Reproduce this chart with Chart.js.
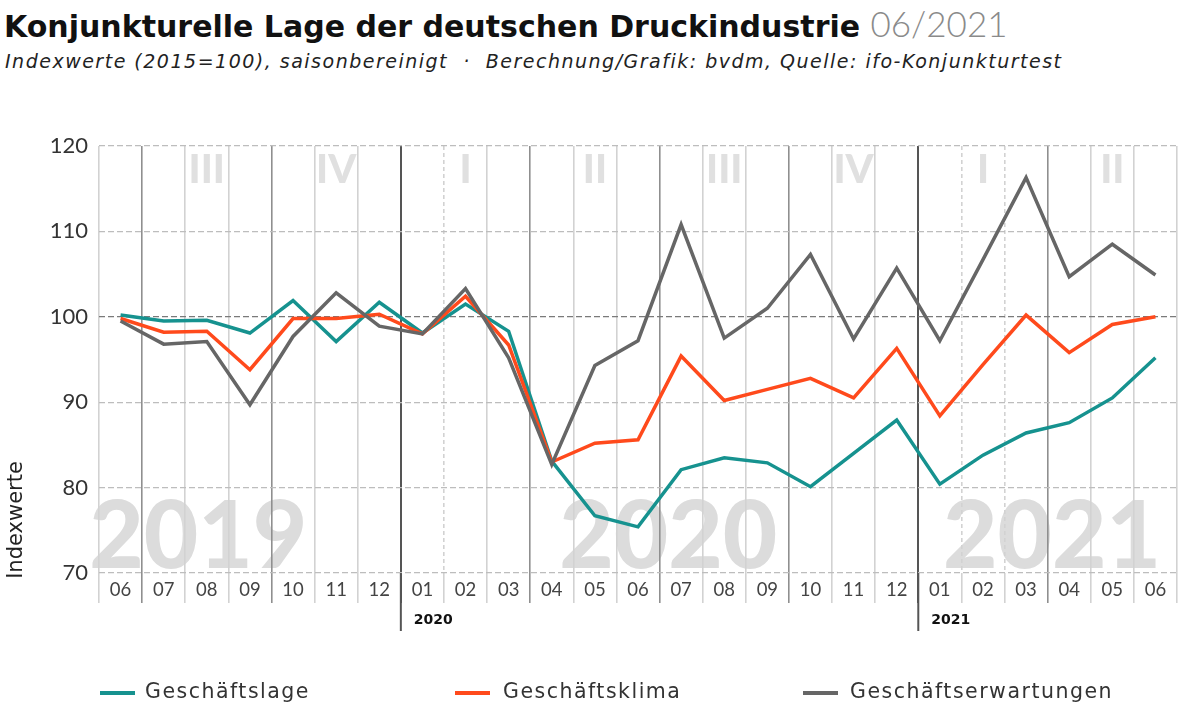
<!DOCTYPE html>
<html lang="de">
<head>
<meta charset="utf-8">
<script src="https://cdn.jsdelivr.net/npm/chart.js@4/dist/chart.umd.min.js"></script>
<style>
  html, body { margin: 0; padding: 0; background: #fff; }
  body { width: 1200px; height: 712px; position: relative; overflow: hidden; font-family: "DejaVu Sans", sans-serif; }
  #title { position: absolute; left: 4px; top: 2px; font-size: 30px; font-weight: 700; color: #111; white-space: nowrap; letter-spacing: 0; }
  #title span { font-family: Lato, sans-serif; font-weight: 300; font-size: 35px; color: #8a8a8a; letter-spacing: 0; }
  #subtitle { position: absolute; left: 5px; top: 50px; font-size: 19px; font-style: italic; color: #222; white-space: nowrap; letter-spacing: 1.5px; }
  #wrap { position: absolute; left: 0; top: 0; width: 1200px; height: 712px; }
  .legend { position: absolute; top: 679px; font-size: 20.5px; color: #333; white-space: nowrap; letter-spacing: 1.5px; }
  .legend i { position: absolute; top: 12px; width: 35px; height: 4px; }
</style>
</head>
<body>
<div id="title">Konjunkturelle Lage der deutschen Druckindustrie <span>06/2021</span></div>
<div id="subtitle">Indexwerte (2015=100), saisonbereinigt &nbsp;·&nbsp; Berechnung/Grafik: bvdm, Quelle: ifo-Konjunkturtest</div>
<div id="wrap"><canvas id="chart"></canvas></div>
<div class="legend" style="left:145px"><i style="left:-45px;background:#16928f"></i>Geschäftslage</div>
<div class="legend" style="left:503px"><i style="left:-48px;background:#ff4a1c"></i>Geschäftsklima</div>
<div class="legend" style="left:850px"><i style="left:-47px;background:#666"></i>Geschäftserwartungen</div>

<script>
/* ─── Data ───────────────────────────────────────────────────────────────── */
const months = ['06','07','08','09','10','11','12','01','02','03','04','05',
                '06','07','08','09','10','11','12','01','02','03','04','05','06'];

const geschaeftslage = [100.2, 99.5, 99.6, 98.1, 101.9, 97.1, 101.7, 98.1, 101.5, 98.3,
                        83.1, 76.7, 75.4, 82.1, 83.5, 82.9, 80.1, 84.0, 87.9,
                        80.4, 83.8, 86.4, 87.6, 90.5, 95.2];

const geschaeftsklima = [99.8, 98.2, 98.3, 93.8, 99.8, 99.8, 100.3, 98.0, 102.4, 96.7,
                         83.0, 85.2, 85.6, 95.4, 90.2, 91.5, 92.8, 90.5, 96.3,
                         88.4, 94.4, 100.2, 95.8, 99.1, 100.0];

const geschaeftserwartungen = [99.5, 96.8, 97.1, 89.7, 97.7, 102.8, 98.9, 98.0, 103.3, 95.2,
                               82.7, 94.3, 97.2, 110.8, 97.5, 101.0, 107.3, 97.4, 105.7,
                               97.2, 106.7, 116.3, 104.7, 108.5, 104.9];

const yTicks = [70, 80, 90, 100, 110, 120];

// quarter numerals sit over the middle month of each quarter
const quarterLabels = ['III', 'IV', 'I', 'II', 'III', 'IV', 'I', 'II'];
const quarterAt     = [2, 5, 8, 11, 14, 17, 20, 23];

// big year watermarks and the small year marks under the axis
const yearMarks     = ['2019', '2020', '2021'];
const yearMarkAt    = [1.8, 12.7, 21.6];
const yearStarts    = ['2020', '2021'];
const yearStartAt   = [7, 19];

/* ─── Helpers ────────────────────────────────────────────────────────────── */
const QUARTER_LINES = [1, 4, 10, 13, 16, 22];
const DASHED_LINES  = [8, 20, 21];

function boundaryX(scale, i) {
  return scale.getPixelForValue(i - 0.5);
}

const decorations = {
  id: 'decorations',
  beforeDraw(chart) {
    const { ctx, scales: { x }, chartArea } = chart;
    ctx.save();
    ctx.fillStyle = '#dcdcdc';
    ctx.textAlign = 'center';
    ctx.textBaseline = 'alphabetic';
    ctx.font = '900 94px Lato, sans-serif';
    yearMarks.forEach((t, k) => {
      ctx.fillText(t, x.getPixelForValue(yearMarkAt[k]), chartArea.bottom - 5);
    });
    ctx.fillStyle = '#e0e0e0';
    ctx.font = '900 40px Lato, sans-serif';
    ctx.textBaseline = 'middle';
    quarterLabels.forEach((t, k) => {
      ctx.fillText(t, x.getPixelForValue(quarterAt[k]), chartArea.top + 24);
    });
    ctx.restore();
  },
  afterDraw(chart) {
    const { ctx, scales: { x }, chartArea } = chart;
    ctx.save();
    ctx.strokeStyle = '#555';
    ctx.lineWidth = 2;
    ctx.fillStyle = '#111';
    ctx.font = '700 14px "DejaVu Sans", sans-serif';
    ctx.textBaseline = 'middle';
    yearStarts.forEach((t, k) => {
      const bx = boundaryX(x, yearStartAt[k]);
      ctx.beginPath();
      ctx.moveTo(bx, chartArea.bottom);
      ctx.lineTo(bx, chartArea.bottom + 58);
      ctx.stroke();
      ctx.fillText(t, bx + 13, chartArea.bottom + 47);
    });
    // y axis title, set low on the left like the original
    ctx.translate(17, 520);
    ctx.rotate(-Math.PI / 2);
    ctx.textAlign = 'center';
    ctx.fillStyle = '#222';
    ctx.font = '400 21px "DejaVu Sans", sans-serif';
    ctx.fillText('Indexwerte', 0, 0);
    ctx.restore();
  }
};

/* ─── Chart ──────────────────────────────────────────────────────────────── */
const line = (label, data, color) => ({
  label, data,
  borderColor: color,
  backgroundColor: color,
  borderWidth: 3.5,
  pointRadius: 0,
  tension: 0,
  borderJoinStyle: 'miter'
});

new Chart(document.getElementById('chart'), {
  type: 'line',
  data: {
    labels: months,
    datasets: [
      line('Geschäftserwartungen', geschaeftserwartungen, '#666666'),
      line('Geschäftsklima', geschaeftsklima, '#ff4a1c'),
      line('Geschäftslage', geschaeftslage, '#16928f')
    ]
  },
  options: {
    responsive: true,
    maintainAspectRatio: false,
    animation: false,
    layout: { padding: { top: 146, left: 0, right: 23, bottom: 79 } },
    plugins: { legend: { display: false }, tooltip: { enabled: false } },
    scales: {
      x: {
        offset: true,
        grid: {
          offset: true,
          tickLength: 30,
          color: c => {
            if (yearStartAt.includes(c.index)) return '#555';
            if (QUARTER_LINES.includes(c.index)) return '#8f8f8f';
            return '#d2d2d2';
          },
          lineWidth: c => yearStartAt.includes(c.index) ? 2 : 1.6
        },
        border: {
          display: false,
          dash: c => DASHED_LINES.includes(c.index) ? [4, 3] : []
        },
        ticks: {
          color: '#444',
          font: { family: 'Lato', size: 18.5 },
          padding: -24,
          maxRotation: 0,
          autoSkip: false
        },
        afterFit: s => { s.height = 60; }
      },
      y: {
        min: 70,
        max: 120,
        afterBuildTicks: s => { s.ticks = yTicks.map(v => ({ value: v })); },
        grid: {
          drawTicks: false,
          color: c => c.tick && c.tick.value === 100 ? '#7a7a7a' : '#bdbdbd',
          lineWidth: 1.2
        },
        border: { display: false, dash: [6, 3] },
        ticks: {
          color: '#333',
          font: { family: 'Lato', size: 22 },
          padding: 11
        },
        afterFit: s => { s.width = 99; }
      }
    }
  },
  plugins: [decorations]
});
</script>
</body>
</html>
